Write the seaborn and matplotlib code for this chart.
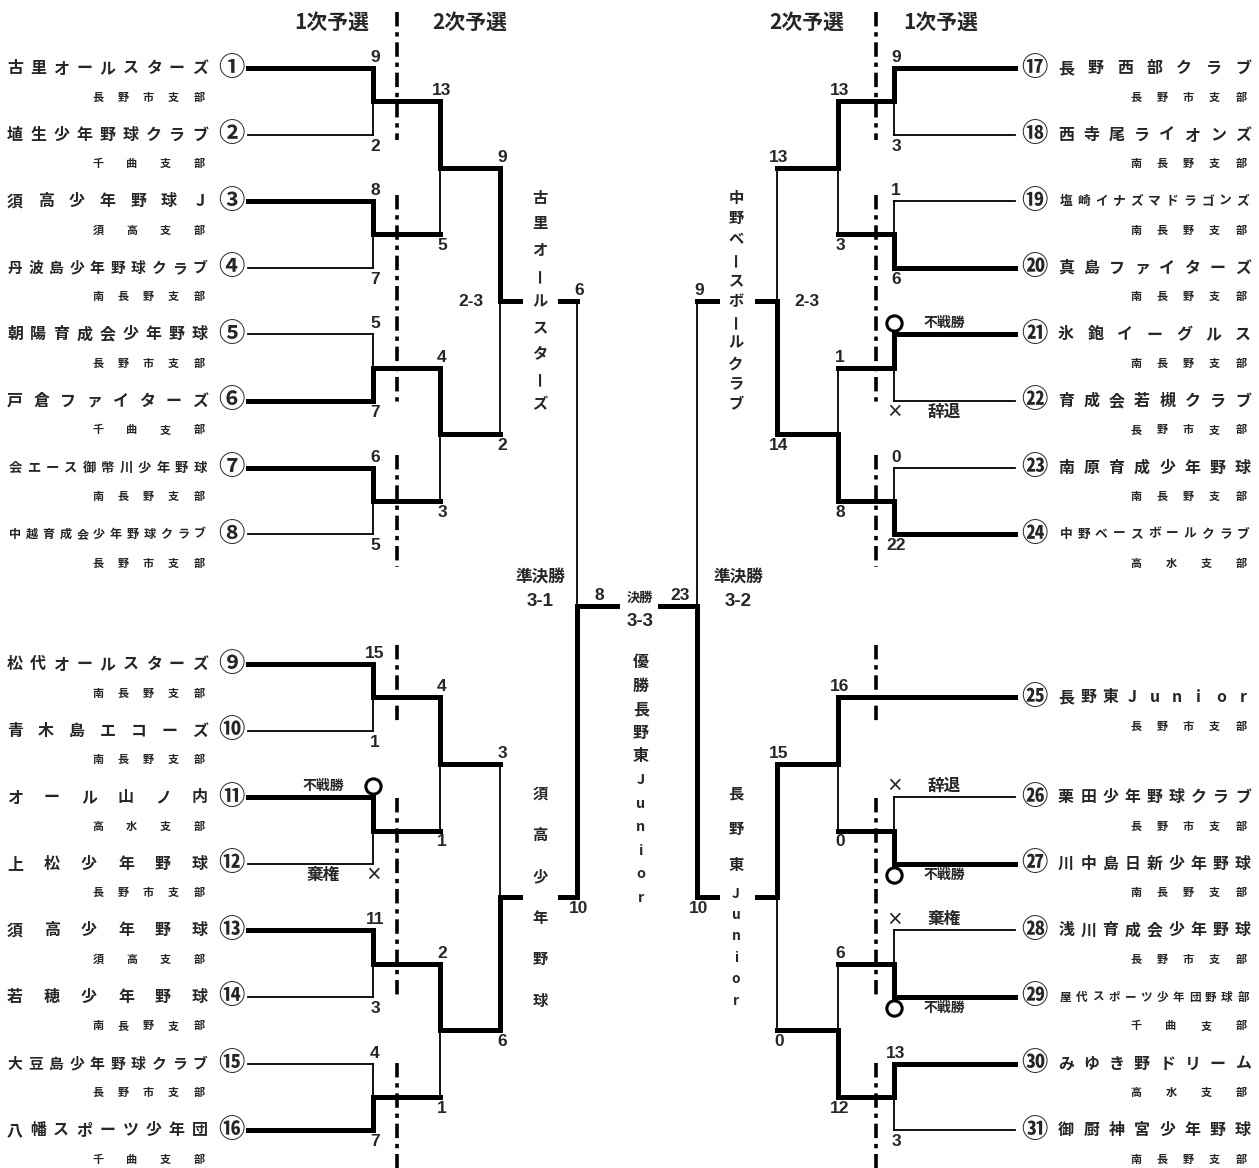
import matplotlib
matplotlib.use('Agg')
import matplotlib.pyplot as plt
import seaborn as sns

# ---------------- data ----------------
left_teams = ['古里オールスターズ', '埴生少年野球クラブ', '須高少年野球J', '丹波島少年野球クラブ',
              '朝陽育成会少年野球', '戸倉ファイターズ', '会エース御幣川少年野球', '中越育成会少年野球クラブ',
              '松代オールスターズ', '青木島エコーズ', 'オール山ノ内', '上松少年野球',
              '須高少年野球', '若穂少年野球', '大豆島少年野球クラブ', '八幡スポーツ少年団']
left_branches = ['長野市支部', '千曲支部', '須高支部', '南長野支部', '長野市支部', '千曲支部', '南長野支部', '長野市支部',
                 '南長野支部', '南長野支部', '高水支部', '長野市支部', '須高支部', '南長野支部', '長野市支部', '千曲支部']
right_teams = ['長野西部クラブ', '西寺尾ライオンズ', '塩崎イナズマドラゴンズ', '真島ファイターズ',
               '氷鉋イーグルス', '育成会若槻クラブ', '南原育成少年野球', '中野ベースボールクラブ',
               '長野東Junior', '栗田少年野球クラブ', '川中島日新少年野球', '浅川育成会少年野球',
               '屋代スポーツ少年団野球部', 'みゆき野ドリーム', '御厨神宮少年野球']
right_branches = ['長野市支部', '南長野支部', '南長野支部', '南長野支部', '南長野支部', '長野市支部', '南長野支部', '高水支部',
                  '長野市支部', '長野市支部', '南長野支部', '長野市支部', '千曲支部', '高水支部', '南長野支部']

# scores (top, bottom) per match; strings mark walkovers
left_r1 = [(9, 2), (8, 7), (5, 7), (6, 5), (15, 1), ('不戦勝', '棄権'), (11, 3), (4, 7)]
left_r2 = [(13, 5), (4, 3), (4, 1), (2, 1)]
left_r3 = [(9, 2), (3, 6)]
right_r1 = [(9, 3), (1, 6), ('不戦勝', '辞退'), (0, 22), ('辞退', '不戦勝'), ('棄権', '不戦勝'), (13, 3)]
right_r2 = [(13, 3), (1, 8), (16, 0), (6, 12)]
right_r3 = [(13, 14), (15, 0)]
semi_scores = [(6, 10), (9, 10)]
final_scores = (8, 23)

stage_headers = ['1次予選', '2次予選', '2次予選', '1次予選']
block_game_ids = [['2-3', ''], ['2-3', '']]
block_winners = [['古里オールスターズ', '須高少年野球'], ['中野ベースボールクラブ', '長野東Junior']]
semi_titles = ['準決勝', '準決勝']
semi_ids = ['3-1', '3-2']
final_title = '決勝'
final_id = '3-3'
champion_label = '優勝長野東Junior'

# bracket structure: row of each team and first-round pairings
left_rows = list(range(16))
left_slots = [(0, 1), (2, 3), (4, 5), (6, 7), (8, 9), (10, 11), (12, 13), (14, 15)]
right_rows = [0, 1, 2, 3, 4, 5, 6, 7, 8.5, 10, 11, 12, 13, 14, 15]
right_slots = [(0, 1), (2, 3), (4, 5), (6, 7), (8,), (9, 10), (11, 12), (13, 14)]

# ---------------- layout ----------------
W, H = 1259, 1168
THICK, THIN = 3.6, 1.3
FINAL_Y = 606
JP = ['Noto Sans CJK JP', 'DejaVu Sans']
NUM = ['Liberation Sans Narrow', 'Liberation Sans', 'DejaVu Sans']
LEFT = dict(sign=-1, team=248, r1=373, dash=397, r2=440, r3=500, out=520, inn=560, semi=577, fin=617,
            name=(15, 200), branch=(98, 199), circ=231, label=540, gid=471, stitle=540)
RIGHT = dict(sign=1, team=1015, r1=894, dash=876, r2=838, r3=777, out=757, inn=717, semi=697, fin=660,
             name=(1066, 1243), branch=(1136, 1241), circ=1034, label=736, gid=807, stitle=738)
DASH_SPANS = [(12, 140), (195, 405), (455, 567), (645, 725), (798, 997), (1063, 1168)]

sns.set_theme(style='white')
plt.rcParams['font.family'] = JP


def row_y(r):
    return 68 + 66.6 * r if r < 8 else 664 + 66.6 * (r - 8)


def circled(n):
    return chr(0x2460 + n - 1) if n <= 20 else chr(0x3251 + n - 21)


def seg(ax, x0, x1, y0, y1, thick):
    ax.plot([x0, x1], [y0, y1], color='black', lw=THICK if thick else THIN,
            solid_capstyle='projecting', zorder=3)


def beats(a, b):
    if isinstance(a, str) or isinstance(b, str):
        return a == '不戦勝'
    return a > b


def spread(ax, text, x0, x1, y, size):
    n = len(text)
    for i, ch in enumerate(text):
        x = x0 + (x1 - x0) * i / (n - 1) if n > 1 else (x0 + x1) / 2
        ax.text(x, y, ch, ha='center', va='center', fontsize=size, fontweight='bold', family=JP)


def vertical(ax, text, x, yc, span, size, latin_w=0.6):
    w = [latin_w if ch.isascii() else 1.0 for ch in text]
    gaps = [(w[i] + w[i + 1]) / 2 for i in range(len(text) - 1)]
    unit = span / sum(gaps)
    y = yc - span / 2
    for i, ch in enumerate(text):
        rot = 90 if ch == 'ー' else 0
        ax.text(x, y, ch, ha='center', va='center', rotation=rot, rotation_mode='anchor',
                fontsize=size if not ch.isascii() else size * 0.9, fontweight='bold', family=JP)
        if i < len(gaps):
            y += gaps[i] * unit


def match(ax, xm, ya, yb, score, L, ysplit=None):
    top_wins = beats(*score)
    ym = (ya + yb) / 2 if ysplit is None else ysplit
    seg(ax, xm, xm, ya, ym, top_wins)
    seg(ax, xm, xm, ym, yb, not top_wins)
    for s, y, d in ((score[0], ya, -1), (score[1], yb, 1)):
        if isinstance(s, str):
            yk = y + d * 11
            if s == '不戦勝':
                ax.plot(xm, yk, 'o', ms=11, mfc='white', mec='black', mew=2.2, zorder=5)
                ax.text(xm + L['sign'] * 50, yk, s, ha='center', va='center', fontsize=10,
                        fontweight='bold', family=JP)
            else:
                ax.text(xm, yk, '×', ha='center', va='center', fontsize=12, fontweight='bold', family=JP)
                ax.text(xm + L['sign'] * 50, yk, s, ha='center', va='center', fontsize=12,
                        fontweight='bold', family=JP)
        else:
            ax.text(xm + 2, y - 3 if d < 0 else y + 4, str(s), ha='center',
                    va='bottom' if d < 0 else 'top', fontsize=12.5, fontweight='bold', family=NUM)
    return ym


def draw_side(ax, L, teams, branches, rows, slots, r1, r2, r3, first_no, side_no):
    ys = [row_y(r) for r in rows]
    for i, (name, br, y) in enumerate(zip(teams, branches, ys)):
        gap = (L['name'][1] - L['name'][0]) / (len(name) - 1)
        spread(ax, name, *L['name'], y, min(11.5, gap * 0.72 / 1.389))
        spread(ax, br, *L['branch'], y + 29, 8)
        ax.text(L['circ'], y, circled(first_no + i), ha='center', va='center', fontsize=19,
                fontweight='bold', family=JP)
    for y0, y1 in DASH_SPANS:
        ax.plot([L['dash'], L['dash']], [y0, y1], color='black', lw=2.6,
                ls=(0, (4, 1.6, 1.2, 1.6)), zorder=2)

    r2_in, k = [], 0
    for slot in slots:
        if len(slot) == 1:
            y = ys[slot[0]]
            seg(ax, L['team'], L['r2'], y, y, True)
            r2_in.append(y)
            continue
        a, b = slot
        top_wins = beats(*r1[k])
        seg(ax, L['team'], L['r1'], ys[a], ys[a], top_wins)
        seg(ax, L['team'], L['r1'], ys[b], ys[b], not top_wins)
        ym = match(ax, L['r1'], ys[a], ys[b], r1[k], L)
        seg(ax, L['r1'], L['r2'], ym, ym, True)
        r2_in.append(ym)
        k += 1

    r3_in = []
    for j, sc in enumerate(r2):
        ym = match(ax, L['r2'], r2_in[2 * j], r2_in[2 * j + 1], sc, L)
        seg(ax, L['r2'], L['r3'], ym, ym, True)
        r3_in.append(ym)

    semi_in = []
    for j, sc in enumerate(r3):
        ym = match(ax, L['r3'], r3_in[2 * j], r3_in[2 * j + 1], sc, L)
        seg(ax, L['r3'], L['out'], ym, ym, True)
        seg(ax, L['inn'], L['semi'], ym, ym, True)
        gid = block_game_ids[side_no][j]
        if gid:
            ax.text(L['gid'], ym, gid, ha='center', va='center', fontsize=12.5, fontweight='bold', family=NUM)
        vertical(ax, block_winners[side_no][j], L['label'], ym, 207, 11)
        semi_in.append(ym)

    match(ax, L['semi'], semi_in[0], semi_in[1], semi_scores[side_no], L, ysplit=FINAL_Y)
    seg(ax, L['semi'], L['fin'], FINAL_Y, FINAL_Y, True)
    ax.text((L['semi'] + L['fin']) / 2 + 2, FINAL_Y - 3, str(final_scores[side_no]), ha='center',
            va='bottom', fontsize=12.5, fontweight='bold', family=NUM)
    ax.text(L['stitle'], 577, semi_titles[side_no], ha='center', va='center', fontsize=12,
            fontweight='bold', family=JP)
    ax.text(L['stitle'], 601, semi_ids[side_no], ha='center', va='center', fontsize=13.5,
            fontweight='bold', family=NUM)


fig = plt.figure(figsize=(W / 100, H / 100), dpi=100)
ax = fig.add_axes([0, 0, 1, 1])
ax.set_xlim(0, W)
ax.set_ylim(H, 0)
ax.axis('off')

draw_side(ax, LEFT, left_teams, left_branches, left_rows, left_slots, left_r1, left_r2, left_r3, 1, 0)
draw_side(ax, RIGHT, right_teams, right_branches, right_rows, right_slots, right_r1, right_r2, right_r3, 17, 1)

for x, t in zip([332, 470, 807, 941], stage_headers):
    ax.text(x, 22, t, ha='center', va='center', fontsize=15, fontweight='bold', family=JP)

ax.text(640, 598, final_title, ha='center', va='center', fontsize=9.5, fontweight='bold', family=JP)
ax.text(640, 621, final_id, ha='center', va='center', fontsize=13.5, fontweight='bold', family=NUM)
vertical(ax, champion_label, 641, 780, 236, 11.5, latin_w=1.0)

fig.savefig('out.png', dpi=100, facecolor='white')
